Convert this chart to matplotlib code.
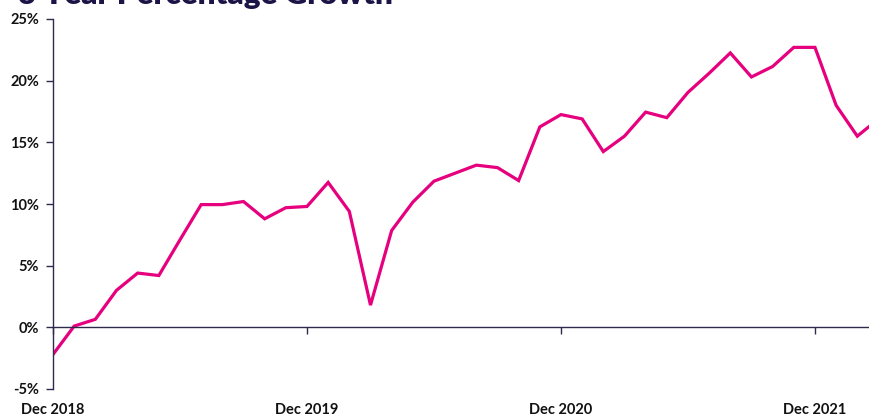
import matplotlib
matplotlib.use("Agg")
import matplotlib.pyplot as plt
import matplotlib.transforms as mtransforms

title = "3 Year Percentage Growth"
months = list(range(40))
growth = [-2.2, 0.1, 0.65, 3.0, 4.4, 4.2, 7.1, 9.95, 9.95, 10.2, 8.8, 9.7,
          9.8, 11.75, 9.4, 1.8, 7.85, 10.15, 11.85, 12.5, 13.15, 12.95, 11.9, 16.25,
          17.25, 16.9, 14.25, 15.5, 17.45, 17.0, 19.05, 20.6, 22.25, 20.3, 21.15, 22.7,
          22.7, 18.0, 15.5, 16.9]
xtick_pos = [0, 12, 24, 36]
xtick_labels = ["Dec 2018", "Dec 2019", "Dec 2020", "Dec 2021"]
ytick_vals = [-5, 0, 5, 10, 15, 20, 25]

LINE = "#e6007e"
AXC = "#2e2a4d"
TXT = "#111111"
FONT = ["Lato", "DejaVu Sans"]

fig = plt.figure(figsize=(8.70, 4.16), dpi=100)
L = 53 / 870
R = 870 / 870
T = 1 - 19 / 416
B = 1 - 389 / 416
ax = fig.add_axes([L, B, R - L, T - B])
ax.plot(months, growth, color=LINE, lw=2.3, solid_joinstyle="miter", clip_on=True)
ax.set_xlim(0, 38.6)
ax.set_ylim(-5, 25)

for s in ["top", "right"]:
    ax.spines[s].set_visible(False)
ax.spines["bottom"].set_position(("data", 0))
ax.spines["bottom"].set_color(AXC)
ax.spines["left"].set_color(AXC)
ax.spines["bottom"].set_linewidth(1.0)
ax.spines["left"].set_linewidth(1.0)

ax.set_yticks(ytick_vals)
ax.set_yticklabels([f"{v}%" for v in ytick_vals], fontfamily=FONT,
                   fontweight="bold", fontsize=10.5, color=TXT)
ax.tick_params(axis="y", direction="out", length=5, width=1, color=AXC, pad=5)

ax.set_xticks(xtick_pos)
ax.set_xticklabels([])
ax.tick_params(axis="x", direction="out", length=5, width=1, color=AXC)

trans = mtransforms.blended_transform_factory(ax.transData, ax.transAxes)
for p, lab in zip(xtick_pos, xtick_labels):
    ax.text(p, -0.057, lab, transform=trans, ha="center", va="center",
            fontfamily=FONT, fontweight="bold", fontsize=10.5, color=TXT,
            clip_on=False)

fig.text(18 / 870, 1 - 4 / 416, title, ha="left", va="baseline",
         fontfamily=FONT, fontweight="heavy", fontsize=22.5, color="#1b1446")

fig.savefig("out.png", dpi=100)
